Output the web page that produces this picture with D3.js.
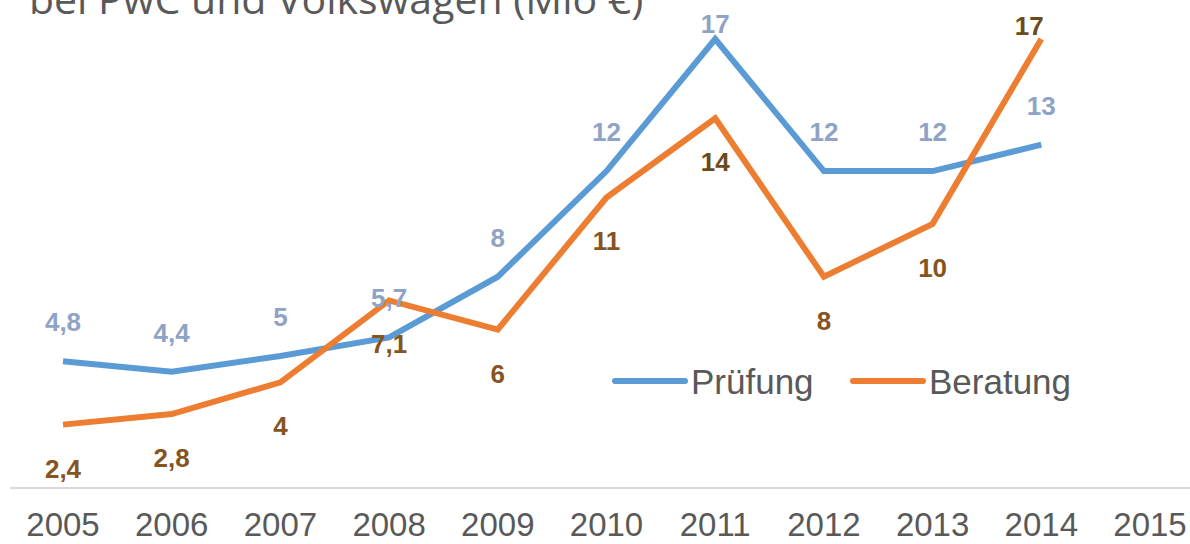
<!DOCTYPE html>
<html>
<head>
<meta charset="utf-8">
<script src="https://cdn.jsdelivr.net/npm/d3@7"></script>
<style>
	body { margin: 0; background: #fff; }
	svg { display: block; }
</style>
</head>
<body>
<div id="chart"></div>
<script>
// values (Mio €)
var years = ["2005", "2006", "2007", "2008", "2009", "2010", "2011", "2012", "2013", "2014", "2015"];
var pruefung = [4.8, 4.4, 5, 5.7, 8, 12, 17, 12, 12, 13];
var beratung = [2.4, 2.8, 4, 7.1, 6, 11, 14, 8, 10, 17];
var seriesNames = ["Prüfung", "Beratung"];
var title = "bei PwC und Volkswagen (Mio €)";

var width = 1190, height = 544;
var colors = ["#5b9bd5", "#ed7d31"];
var labelColors = ["#8ea3c6", "#85541f"];

var svg = d3.select("#chart").append("svg")
	.attr("width", width)
	.attr("height", height);

var x = d3.scalePoint().domain(years).range([63, 1150]);
var y = d3.scaleLinear().domain([0, 17]).range([488, 39]);

// title, cut off at the top like in the original
svg.append("text")
	.attr("x", 29)
	.attr("y", 14)
	.style("font-family", "Open Sans")
	.style("font-size", "41px")
	.style("fill", "#595959")
	.text(title);

// baseline
svg.append("line")
	.attr("x1", 10).attr("x2", width)
	.attr("y1", y(0)).attr("y2", y(0))
	.style("stroke", "#d9d9d9")
	.style("stroke-width", 2);

// year labels
svg.selectAll(".year")
	.data(years)
	.enter().append("text")
	.attr("class", "year")
	.attr("x", d => x(d))
	.attr("y", 536)
	.attr("text-anchor", "middle")
	.style("font-family", "Liberation Sans")
	.style("font-size", "33px")
	.style("fill", "#595959")
	.text(d => d);

var line = d3.line()
	.x((d, i) => x(years[i]))
	.y(d => y(d));

var allSeries = [pruefung, beratung];

allSeries.forEach(function(values, s){
	svg.append("path")
		.datum(values)
		.attr("d", line)
		.style("fill", "none")
		.style("stroke", colors[s])
		.style("stroke-width", 6)
		.style("stroke-linejoin", "miter");
});

function fmt(v){ return String(v).replace(".", ","); }

// data labels: Prüfung above, Beratung below (last one above)
allSeries.forEach(function(values, s){
	svg.selectAll(".lbl" + s)
		.data(values)
		.enter().append("text")
		.attr("class", "lbl" + s)
		.attr("x", (d, i) => x(years[i]) - (s == 1 && i == values.length - 1 ? 12 : 0))
		.attr("y", function(d, i){
			var py = y(d);
			if (s == 0) return Math.max(py - 39, 24);
			if (i == values.length - 1) return py - 13;
			return py + 44;
		})
		.attr("text-anchor", "middle")
		.attr("dominant-baseline", "central")
		.style("font-family", "Liberation Sans")
		.style("font-weight", "bold")
		.style("font-size", "26px")
		.style("fill", (d, i) => (s == 1 && (i == 6 || i == 9)) ? "#6b4a1c" : labelColors[s])
		.text(d => fmt(d));
});

// legend
var legendX = [615, 853];
seriesNames.forEach(function(name, s){
	var g = svg.append("g").attr("transform", "translate(" + legendX[s] + ",381)");
	g.append("line")
		.attr("x1", 0).attr("x2", 70)
		.style("stroke", colors[s])
		.style("stroke-width", 6)
		.style("stroke-linecap", "round");
	g.append("text")
		.attr("x", 76)
		.attr("dominant-baseline", "central")
		.style("font-family", "Liberation Sans")
		.style("font-size", "35px")
		.style("fill", "#595959")
		.text(name);
});
</script>
</body>
</html>
